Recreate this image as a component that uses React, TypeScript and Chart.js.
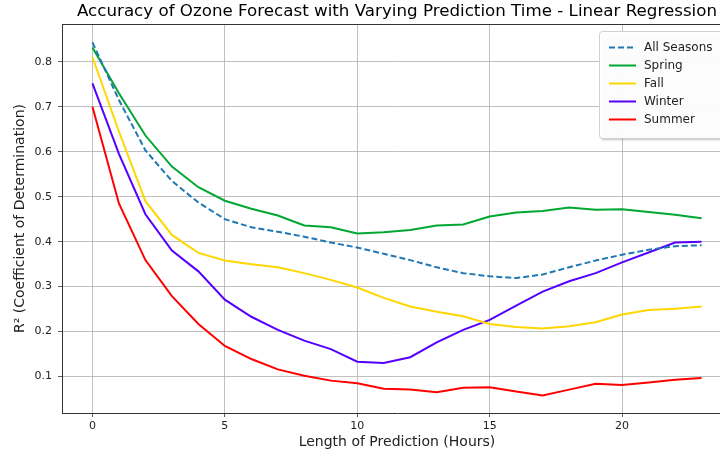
import React, { useEffect, useRef } from "react";
import { Chart, registerables } from "chart.js";

Chart.register(...registerables);

const hours = [0, 1, 2, 3, 4, 5, 6, 7, 8, 9, 10, 11, 12, 13, 14, 15, 16, 17, 18, 19, 20, 21, 22, 23];
const allSeasons = [0.843, 0.715, 0.603, 0.535, 0.487, 0.45, 0.432, 0.422, 0.411, 0.398, 0.387, 0.373, 0.359, 0.343, 0.33, 0.323, 0.319, 0.327, 0.343, 0.358, 0.371, 0.382, 0.39, 0.392];
const spring = [0.832, 0.73, 0.636, 0.567, 0.521, 0.491, 0.473, 0.458, 0.436, 0.432, 0.418, 0.421, 0.426, 0.436, 0.438, 0.456, 0.465, 0.468, 0.476, 0.471, 0.472, 0.466, 0.46, 0.452];
const fall = [0.81, 0.645, 0.49, 0.415, 0.375, 0.358, 0.35, 0.343, 0.33, 0.315, 0.298, 0.275, 0.256, 0.244, 0.234, 0.217, 0.21, 0.207, 0.212, 0.221, 0.238, 0.248, 0.251, 0.256];
const winter = [0.752, 0.595, 0.461, 0.38, 0.334, 0.271, 0.233, 0.204, 0.18, 0.161, 0.133, 0.13, 0.143, 0.176, 0.204, 0.226, 0.258, 0.289, 0.312, 0.33, 0.354, 0.376, 0.398, 0.4];
const summer = [0.7, 0.485, 0.359, 0.279, 0.217, 0.168, 0.139, 0.116, 0.102, 0.091, 0.085, 0.073, 0.071, 0.065, 0.075, 0.076, 0.067, 0.058, 0.071, 0.084, 0.081, 0.087, 0.093, 0.097];

const seriesNames = ["All Seasons", "Spring", "Fall", "Winter", "Summer"];
const seriesColors = ["#1f77b4", "#00a832", "#ffd700", "#5500ff", "#ff0000"];
const xTicks = [0, 5, 10, 15, 20];
const yTicks = [0.1, 0.2, 0.3, 0.4, 0.5, 0.6, 0.7, 0.8];
const titleText = "Accuracy of Ozone Forecast with Varying Prediction Time - Linear Regression";
const xTitle = "Length of Prediction (Hours)";
const yTitle = "R² (Coefficient of Determination)";

const FONT = "'DejaVu Sans', sans-serif";

const decorPlugin = {
  id: "decor",
  afterDraw(chart: any) {
    const { ctx, chartArea } = chart;
    ctx.save();
    ctx.strokeStyle = "#333";
    ctx.lineWidth = 1;
    ctx.beginPath();
    ctx.moveTo(chartArea.left, chartArea.top + 0.5);
    ctx.lineTo(chartArea.right, chartArea.top + 0.5);
    ctx.stroke();
    ctx.fillStyle = "#000";
    ctx.font = `16.7px ${FONT}`;
    ctx.textAlign = "center";
    ctx.textBaseline = "middle";
    ctx.fillText(titleText, (chartArea.left + chartArea.right) / 2, 12);
    const bx = 599, by = 31, bw = 140, bh = 107;
    ctx.shadowColor = "rgba(0,0,0,0.25)";
    ctx.shadowOffsetX = 2;
    ctx.shadowOffsetY = 2;
    ctx.shadowBlur = 2;
    ctx.fillStyle = "rgba(255,255,255,0.95)";
    ctx.beginPath();
    (ctx as any).roundRect(bx, by, bw, bh, 3);
    ctx.fill();
    ctx.shadowColor = "transparent";
    ctx.strokeStyle = "#d0d0d0";
    ctx.lineWidth = 1;
    ctx.beginPath();
    (ctx as any).roundRect(bx + 0.5, by + 0.5, bw, bh, 3);
    ctx.stroke();
    ctx.font = `12px ${FONT}`;
    ctx.textAlign = "left";
    ctx.textBaseline = "middle";
    chart.data.datasets.forEach((ds: any, i: number) => {
      const y = 47.5 + i * 18;
      ctx.strokeStyle = ds.borderColor;
      ctx.lineWidth = 2;
      ctx.setLineDash(ds.borderDash || []);
      ctx.beginPath();
      ctx.moveTo(609, y);
      ctx.lineTo(636, y);
      ctx.stroke();
      ctx.setLineDash([]);
      ctx.fillStyle = "#222";
      ctx.fillText(ds.label, 644, y + 0.5);
    });
    ctx.restore();
  },
};

export default function App() {
  const ref = useRef<HTMLCanvasElement | null>(null);
  useEffect(() => {
    if (!ref.current) return;
    const series = [allSeasons, spring, fall, winter, summer];
    const chart = new Chart(ref.current, {
      type: "line",
      data: {
        datasets: series.map((vals, i) => ({
          label: seriesNames[i],
          data: hours.map((h, j) => ({ x: h, y: vals[j] })),
          borderColor: seriesColors[i],
          backgroundColor: seriesColors[i],
          borderWidth: 2,
          borderDash: i === 0 ? [6, 3] : [],
          pointRadius: 0,
          tension: 0,
          fill: false,
        })),
      },
      options: {
        animation: false,
        responsive: false,
        maintainAspectRatio: false,
        layout: { padding: { top: 24, left: 0, right: 8, bottom: 0 } },
        plugins: {
          legend: { display: false },
          title: { display: false },
          tooltip: { enabled: false },
        },
        scales: {
          x: {
            type: "linear",
            min: -1.15,
            max: 24.15,
            afterBuildTicks: (scale: any) => {
              scale.ticks = xTicks.map((v) => ({ value: v }));
            },
            afterFit: (scale: any) => {
              scale.height = 43;
            },
            ticks: {
              font: { family: FONT, size: 11 },
              color: "#222",
              padding: 3,
              maxRotation: 0,
            },
            grid: {
              color: "#b0b0b0",
              lineWidth: 0.8,
              tickLength: 4,
              tickColor: "#333",
            },
            border: { color: "#333", width: 1 },
            title: {
              display: true,
              text: xTitle,
              font: { family: FONT, size: 14 },
              color: "#222",
              padding: { top: 0, bottom: 5 },
            },
          },
          y: {
            type: "linear",
            min: 0.019,
            max: 0.884,
            afterBuildTicks: (scale: any) => {
              scale.ticks = yTicks.map((v) => ({ value: v }));
            },
            afterFit: (scale: any) => {
              scale.width = 62;
            },
            ticks: {
              font: { family: FONT, size: 11 },
              color: "#222",
              padding: 6,
              callback: (v: any) => Number(v).toFixed(1),
            },
            grid: {
              color: "#b0b0b0",
              lineWidth: 0.8,
              tickLength: 4,
              tickColor: "#333",
            },
            border: { color: "#333", width: 1 },
            title: {
              display: true,
              text: yTitle,
              font: { family: FONT, size: 14 },
              color: "#222",
              padding: { top: 12, bottom: 0 },
            },
          },
        },
      },
      plugins: [decorPlugin],
    });
    return () => chart.destroy();
  }, []);
  return (
    <canvas
      ref={ref}
      width={740}
      height={456}
      style={{ position: "fixed", left: 0, top: 0, width: 740, height: 456, display: "block", background: "#fff" }}
    />
  );
}
